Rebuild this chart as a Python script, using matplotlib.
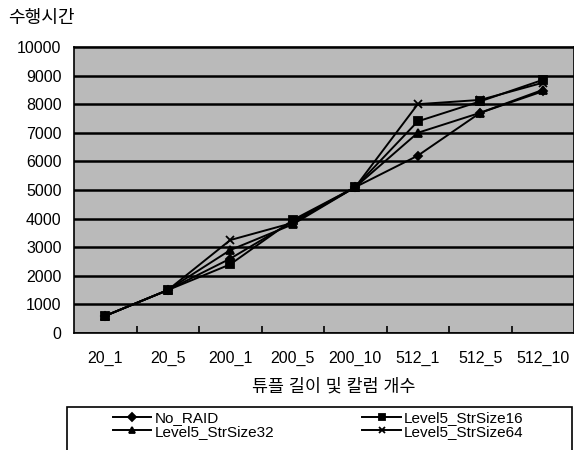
import numpy as np
import matplotlib.pyplot as plt
from matplotlib.patches import Rectangle

plt.rcParams['font.family'] = ['Liberation Sans', 'Noto Sans CJK KR']

categories = ["20_1", "20_5", "200_1", "200_5", "200_10", "512_1", "512_5", "512_10"]

no_raid = [600, 1500, 2600, 3900, 5100, 6200, 7700, 8450]
str16 = [600, 1500, 2400, 3950, 5100, 7400, 8100, 8850]
str32 = [600, 1500, 2900, 3800, 5100, 7000, 7700, 8500]
str64 = [600, 1500, 3250, 3850, 5100, 8000, 8150, 8750]

series = [
    ("No_RAID", no_raid, "D", 4),
    ("Level5_StrSize16", str16, "s", 5.5),
    ("Level5_StrSize32", str32, "^", 5.5),
    ("Level5_StrSize64", str64, "x", 5.5),
]

fig = plt.figure(figsize=(5.74, 4.5), dpi=100)
ax = fig.add_axes([74 / 574, 1 - 333 / 450, 500 / 574, 286 / 450])
ax.set_facecolor("#bababa")

x = np.arange(len(categories))
lines = {}
for name, vals, mk, ms in series:
    ln, = ax.plot(x, vals, color="black", lw=1.4, marker=mk, markersize=ms,
                  markeredgewidth=1.3, label=name, zorder=3)
    lines[name] = ln

ax.set_xlim(-0.5, len(categories) - 0.5)
ax.set_ylim(0, 10000)
ax.set_yticks(range(0, 10001, 1000))
ax.yaxis.grid(True, color="black", lw=1.8)
ax.set_axisbelow(True)

ax.set_xticks(x)
ax.set_xticklabels(categories)
ax.set_xticks(np.arange(0.5, len(categories) - 0.5), minor=True)
ax.tick_params(axis="x", which="major", length=0, pad=13, labelsize=11.5)
ax.tick_params(axis="x", which="minor", direction="in", length=5, width=1.2)
ax.tick_params(axis="y", length=0, pad=9, labelsize=11.5)
for sp in ax.spines.values():
    sp.set_color("black")
    sp.set_linewidth(1.2)

fig.text(8 / 574, 1 - 18 / 450, "수행시간", fontsize=13, va="center", ha="left")
fig.text(334 / 574, 1 - 386 / 450, "튜플 길이 및 칼럼 개수", fontsize=12.5,
         va="center", ha="center")

# legend frame runs off the bottom edge, as in the scan
fig.patches.append(Rectangle((67 / 574, -0.05), 505 / 574, 0.05 + 43 / 450,
                             transform=fig.transFigure, fill=False,
                             edgecolor="black", lw=1.2))

order = ["No_RAID", "Level5_StrSize32", "Level5_StrSize16", "Level5_StrSize64"]
leg = fig.legend([lines[n] for n in order], order, loc="upper left", ncol=2,
                 bbox_to_anchor=(113 / 574, 1 - 411 / 450),
                 fontsize=11, frameon=False, handlelength=2.5,
                 handletextpad=0.2, columnspacing=5.8, labelspacing=-0.02,
                 borderpad=0, borderaxespad=0)
for h in leg.legend_handles:
    h.set_markersize(4.5)

fig.savefig("out.png", dpi=100)
